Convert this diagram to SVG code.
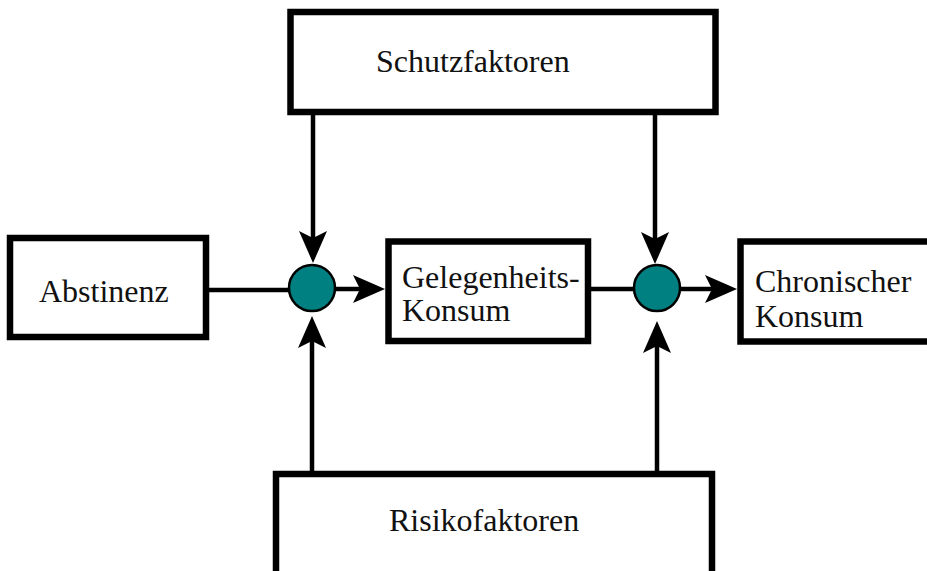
<svg xmlns="http://www.w3.org/2000/svg" width="927" height="571" viewBox="0 0 927 571">
<style>
.box{fill:#fff;stroke:#000;stroke-width:6.5}
.lbl{font-family:"Liberation Serif","Times New Roman",serif;font-size:32px;fill:#111}
.ln{stroke:#000;stroke-width:4.5;fill:none}
.node{fill:#008080;stroke:#000;stroke-width:2.5}
</style>
<defs>
<path id="ah" d="M0,0 L-14,-32 L0,-25 L14,-32 Z" fill="#000"/>
</defs>
<rect width="927" height="571" fill="#fff"/>
<g id="schutz">
<rect class="box" x="290.5" y="12" width="425" height="100"/>
<text class="lbl" x="376" y="72">Schutzfaktoren</text>
</g>
<g id="risiko">
<rect class="box" x="276" y="474" width="436" height="110"/>
<text class="lbl" x="389" y="531">Risikofaktoren</text>
</g>
<g id="abstinenz">
<rect class="box" x="10" y="238" width="196" height="99"/>
<text class="lbl" x="39" y="302">Abstinenz</text>
</g>
<g id="gelegenheit">
<rect class="box" x="388.5" y="241.5" width="199.5" height="99.5"/>
<text class="lbl" x="402" y="288">Gelegenheits-</text>
<text class="lbl" x="402" y="321">Konsum</text>
</g>
<g id="chronisch">
<rect class="box" x="740.5" y="241.5" width="200" height="100"/>
<text class="lbl" x="755" y="292">Chronischer</text>
<text class="lbl" x="755" y="327">Konsum</text>
</g>
<g id="connectors">
<line class="ln" x1="209" y1="290" x2="290" y2="290"/>
<line class="ln" x1="335" y1="289" x2="360" y2="289"/>
<use href="#ah" transform="translate(385,289) rotate(-90)"/>
<line class="ln" x1="591" y1="289" x2="634" y2="289"/>
<line class="ln" x1="680" y1="289" x2="712" y2="289"/>
<use href="#ah" transform="translate(737,289) rotate(-90)"/>
<line class="ln" x1="313" y1="115" x2="313" y2="240"/>
<use href="#ah" transform="translate(313,263)"/>
<line class="ln" x1="655" y1="115" x2="655" y2="240"/>
<use href="#ah" transform="translate(655,264)"/>
<line class="ln" x1="312" y1="471" x2="312" y2="340"/>
<use href="#ah" transform="translate(312,316) rotate(180)"/>
<line class="ln" x1="657" y1="471" x2="657" y2="345"/>
<use href="#ah" transform="translate(657,321) rotate(180)"/>
</g>
<g id="junction1"><circle class="node" cx="312" cy="288" r="23"/></g>
<g id="junction2"><circle class="node" cx="657" cy="288" r="23"/></g>
</svg>
